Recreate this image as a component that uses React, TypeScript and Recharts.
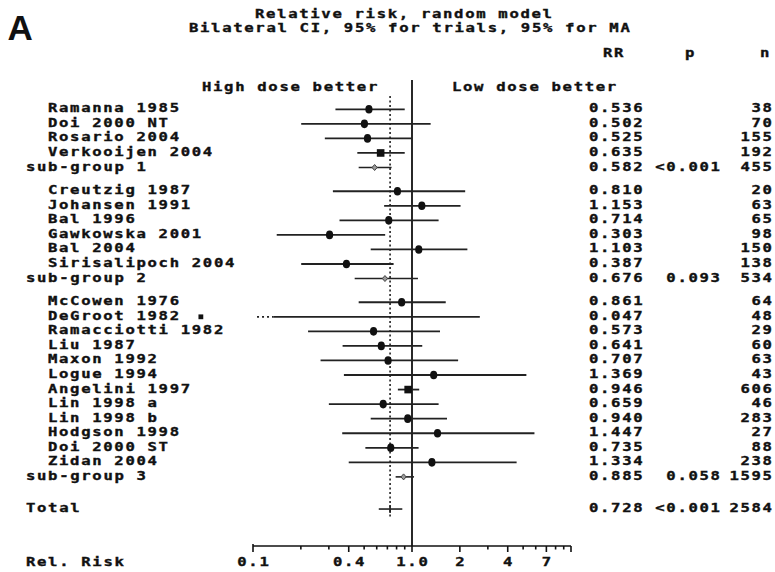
import React from "react";
import { ScatterChart, Scatter, XAxis, YAxis, ReferenceLine, ReferenceDot } from "recharts";

// ---------- data ----------
const studyNames = [
  "Ramanna 1985", "Doi 2000 NT", "Rosario 2004", "Verkooijen 2004",
  "Creutzig 1987", "Johansen 1991", "Bal 1996", "Gawkowska 2001", "Bal 2004", "Sirisalipoch 2004",
  "McCowen 1976", "DeGroot 1982", "Ramacciotti 1982", "Liu 1987", "Maxon 1992", "Logue 1994",
  "Angelini 1997", "Lin 1998 a", "Lin 1998 b", "Hodgson 1998", "Doi 2000 ST", "Zidan 2004",
];
const studyGroup = [1, 1, 1, 1, 2, 2, 2, 2, 2, 2, 3, 3, 3, 3, 3, 3, 3, 3, 3, 3, 3, 3];
const studyRR = [
  0.536, 0.502, 0.525, 0.635,
  0.81, 1.153, 0.714, 0.303, 1.103, 0.387,
  0.861, 0.047, 0.573, 0.641, 0.707, 1.369, 0.946, 0.659, 0.94, 1.447, 0.735, 1.334,
];
const studyLow = [
  0.33, 0.201, 0.283, 0.453,
  0.318, 0.668, 0.35, 0.141, 0.55, 0.201,
  0.462, 0.0008, 0.222, 0.366, 0.266, 0.373, 0.815, 0.3, 0.55, 0.364, 0.509, 0.4,
];
const studyHigh = [
  0.9, 1.31, 1.0, 0.9,
  2.16, 2.02, 1.47, 0.678, 2.23, 0.766,
  1.63, 2.67, 1.5, 1.16, 1.95, 5.24, 1.11, 1.47, 1.66, 5.89, 1.1, 4.55,
];
const studyN = [38, 70, 155, 192, 20, 63, 65, 98, 150, 138, 64, 48, 29, 60, 63, 43, 606, 46, 283, 27, 88, 238];

const subgroupNames = ["sub-group 1", "sub-group 2", "sub-group 3"];
const subgroupRR = [0.582, 0.676, 0.885];
const subgroupLow = [0.462, 0.436, 0.789];
const subgroupHigh = [0.744, 1.09, 1.03];
const subgroupP = ["<0.001", "0.093", "0.058"];
const subgroupN = [455, 534, 1595];

const totalName = "Total";
const totalRR = 0.728;
const totalLow = 0.618;
const totalHigh = 0.869;
const totalP = "<0.001";
const totalN = 2584;

const axisTicks = [0.1, 0.2, 0.3, 0.4, 0.5, 0.6, 0.7, 0.8, 0.9, 1, 2, 3, 4, 5, 6, 7, 8, 9, 10];
const axisLabelValues = [0.1, 0.4, 1, 2, 4, 7];
const axisLabelTexts = ["0.1", "0.4", "1.0", "2", "4", "7"];

// ---------- layout / style ----------
const W = 775;
const H = 572;
const FONT = "'DejaVu Sans Mono', 'Liberation Mono', monospace";
const K = 1.3; // horizontal glyph stretch
const LS = 1.29; // letter spacing before stretch
const txt: React.CSSProperties = {
  fontFamily: FONT,
  fontWeight: 700,
  fontSize: 12,
  letterSpacing: `${LS}px`,
};
const INK = "#111";
const LINE = "#222";
const X_MIN = 0.1;
const X_MAX = 10;
const TRUNC_DOT_START = 0.106;
const TRUNC_SOLID_START = 0.134;
const GROUP_GAP = 0.63;
const TOTAL_GAP = 1.21;
const squareStudies = new Set(["Verkooijen 2004", "Angelini 1997"]);

const T = ({ x, y, anchor = "start", children }: { x: number; y: number; anchor?: "start" | "middle" | "end"; children: React.ReactNode }) => {
  const shift = anchor === "end" ? LS * K : anchor === "middle" ? (LS * K) / 2 : 0;
  return (
    <text
      transform={`translate(${x + shift},${y}) scale(${K},1)`}
      x={0}
      y={0}
      textAnchor={anchor}
      style={txt}
      fill={INK}
      stroke={INK}
      strokeWidth={0.35}
    >
      {children}
    </text>
  );
};

type Row = {
  kind: "study" | "sub" | "total";
  name: string;
  rr: number;
  lo: number;
  hi: number;
  p: string;
  n: number;
  y: number;
};

function buildRows(): Row[] {
  const rows: Row[] = [];
  let u = 0;
  subgroupNames.forEach((sg, gi) => {
    studyNames.forEach((name, i) => {
      if (studyGroup[i] === gi + 1) {
        rows.push({ kind: "study", name, rr: studyRR[i], lo: studyLow[i], hi: studyHigh[i], p: "", n: studyN[i], y: u });
        u += 1;
      }
    });
    rows.push({ kind: "sub", name: sg, rr: subgroupRR[gi], lo: subgroupLow[gi], hi: subgroupHigh[gi], p: subgroupP[gi], n: subgroupN[gi], y: u });
    u += 1;
    if (gi < subgroupNames.length - 1) u += GROUP_GAP;
  });
  u += TOTAL_GAP;
  rows.push({ kind: "total", name: totalName, rr: totalRR, lo: totalLow, hi: totalHigh, p: totalP, n: totalN, y: u });
  return rows;
}

const rows = buildRows();
const points = rows.filter((r) => r.rr >= X_MIN).map((r) => ({ ...r, x: r.rr }));
const offScale = rows.filter((r) => r.rr < X_MIN);

const YTick = (props: any) => {
  const { y, payload } = props;
  const row = rows[payload.index] ?? rows.find((r) => Math.abs(r.y - payload.value) < 1e-6);
  if (!row) return null;
  const by = y + 3;
  const nameX = row.kind === "study" ? 48 : 26;
  return (
    <g>
      <T x={nameX} y={by}>{row.name}</T>
      <T x={589} y={by}>{row.rr.toFixed(3)}</T>
      {row.p ? <T x={720} y={by} anchor="end">{row.p}</T> : null}
      <T x={772} y={by} anchor="end">{String(row.n)}</T>
    </g>
  );
};

const XTick = (props: any) => {
  const { x, y, payload } = props;
  const v = payload.value;
  const li = axisLabelValues.findIndex((a) => Math.abs(a - v) < 1e-9);
  const major = li >= 0 || Math.abs(v - X_MAX) < 1e-9;
  return (
    <g>
      <line x1={x} x2={x} y1={y - (li === 0 ? 2 : 0)} y2={y + (major ? 6 : 3.5)} stroke={INK} strokeWidth={1.6} />
      {li >= 0 ? <T x={x} y={y + 20} anchor="middle">{axisLabelTexts[li]}</T> : null}
    </g>
  );
};

const Marker = (props: any) => {
  const { cx, cy, payload } = props;
  if (cx == null || cy == null) return null;
  if (payload.kind === "sub") {
    return (
      <path
        d={`M${cx},${cy - 3} L${cx + 2.6},${cy} L${cx},${cy + 3} L${cx - 2.6},${cy} Z`}
        fill="#9a9a9a"
        stroke="#444"
        strokeWidth={1}
      />
    );
  }
  if (payload.kind === "total") {
    return <line x1={cx} x2={cx} y1={cy - 4} y2={cy + 4} stroke={LINE} strokeWidth={1.6} />;
  }
  if (squareStudies.has(payload.name)) {
    return <rect x={cx - 3.8} y={cy - 3.8} width={7.6} height={7.6} fill={INK} />;
  }
  return <ellipse cx={cx} cy={cy} rx={3.6} ry={4.3} fill={INK} />;
};

export default function App() {
  return (
    <div style={{ position: "absolute", left: 0, top: 0, width: W, height: H, background: "#fff" }}>
      <ScatterChart width={W} height={H} margin={{ top: 80, right: 204, bottom: 0, left: 0 }}>
        <XAxis
          type="number"
          dataKey="x"
          scale="log"
          domain={[X_MIN, X_MAX]}
          allowDataOverflow
          ticks={axisTicks}
          interval={0}
          tickLine={false}
          tickSize={0}
          tickMargin={0}
          height={26}
          axisLine={{ stroke: INK, strokeWidth: 1.6 }}
          tick={XTick}
        />
        <YAxis
          type="number"
          dataKey="y"
          domain={[-2.014, 30.01]}
          reversed
          allowDataOverflow
          ticks={rows.map((r) => r.y)}
          interval={0}
          tickLine={false}
          axisLine={false}
          width={253}
          tick={YTick}
        />
        <ReferenceLine x={1} stroke={INK} strokeWidth={1.8} ifOverflow="visible" />
        <ReferenceLine
          segment={[{ x: totalRR, y: -0.92 }, { x: totalRR, y: 28.1 }]}
          stroke={INK}
          strokeWidth={1.5}
          strokeDasharray="2 2.5"
          ifOverflow="visible"
        />
        {rows.map((r, i) => {
          const lo = Math.max(r.lo, X_MIN);
          const hi = Math.min(r.hi, X_MAX);
          const truncated = r.lo < X_MIN;
          return (
            <React.Fragment key={`ci${i}`}>
              <ReferenceLine
                segment={[{ x: truncated ? TRUNC_SOLID_START : lo, y: r.y }, { x: hi, y: r.y }]}
                stroke={LINE}
                strokeWidth={r.kind === "study" ? 1.8 : 1.6}
                ifOverflow="visible"
              />
              {truncated ? (
                <ReferenceLine
                  segment={[{ x: TRUNC_DOT_START, y: r.y }, { x: TRUNC_SOLID_START, y: r.y }]}
                  stroke={LINE}
                  strokeWidth={1.8}
                  strokeDasharray="2 3"
                  ifOverflow="visible"
                />
              ) : null}
            </React.Fragment>
          );
        })}
        <Scatter data={points} isAnimationActive={false} shape={Marker} />
        {offScale.map((r, i) => (
          <ReferenceDot
            key={`off${i}`}
            x={r.rr}
            y={r.y}
            ifOverflow="visible"
            shape={(p: any) => <rect x={p.cx - 2.4} y={p.cy - 2.4} width={4.8} height={4.8} fill={INK} />}
          />
        ))}
      </ScatterChart>
      <svg
        width={W}
        height={H}
        style={{ position: "absolute", left: 0, top: 0, pointerEvents: "none" }}
      >
        <text x={7.5} y={40} fontFamily="'Liberation Sans', Arial, sans-serif" fontWeight={700} fontSize={35} fill={INK}>
          A
        </text>
        <T x={255} y={18}>Relative risk, random model</T>
        <T x={189} y={32}>Bilateral CI, 95% for trials, 95% for MA</T>
        <T x={603} y={57}>RR</T>
        <T x={685} y={57}>p</T>
        <T x={760} y={57}>n</T>
        <T x={202} y={90.5}>High dose better</T>
        <T x={452} y={90.5}>Low dose better</T>
        <T x={26} y={566}>Rel. Risk</T>
      </svg>
    </div>
  );
}
